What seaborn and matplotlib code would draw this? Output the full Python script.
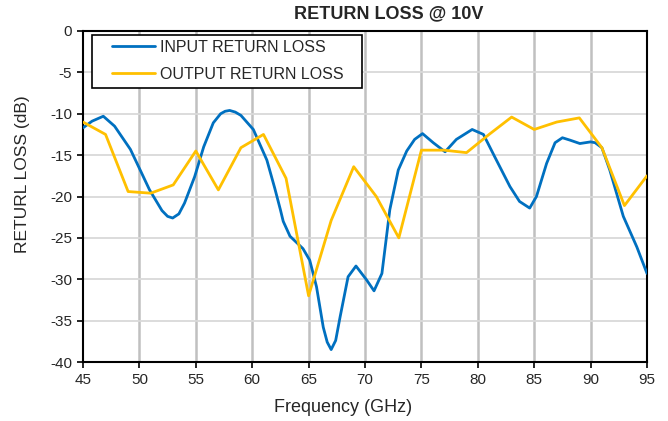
import matplotlib
matplotlib.use("Agg")
import matplotlib.pyplot as plt
from matplotlib.patches import Rectangle
import seaborn as sns
import pandas as pd

input_freq = [45.0, 45.8, 46.8, 47.8, 49.2, 50.0, 50.9, 52.0, 52.5, 52.95, 53.5, 54.0, 54.9, 55.7,
              56.55, 57.2, 57.6, 58.0, 58.5, 59.0, 60.1, 61.3, 62.0, 62.5, 62.75, 63.35, 64.5, 65.1,
              65.7, 66.3, 66.65, 67.0, 67.4, 67.8, 68.5, 69.2, 70.15, 70.8, 71.5, 72.2, 72.95, 73.7,
              74.4, 75.1, 76.05, 77.1, 78.1, 79.5, 80.5, 81.5, 82.85, 83.7, 84.6, 85.2,
              86.1, 86.85, 87.5, 88.2, 89.05, 90.0, 90.4, 91.0, 91.7, 92.9, 94.1, 95.0]
input_rl = [-11.7, -10.9, -10.3, -11.5, -14.3, -16.6, -19.2, -21.7, -22.4, -22.6, -22.1, -20.8, -17.6, -14.0,
            -11.1, -10.0, -9.7, -9.6, -9.8, -10.2, -11.9, -15.6, -19.0, -21.6, -23.0, -24.8, -26.3, -27.7,
            -30.9, -35.8, -37.6, -38.5, -37.4, -34.5, -29.7, -28.4, -30.1, -31.4, -29.3, -21.6, -16.8, -14.5,
            -13.1, -12.4, -13.5, -14.6, -13.1, -11.9, -12.5, -15.2, -18.8, -20.6, -21.4, -20.0,
            -16.0, -13.5, -12.9, -13.2, -13.6, -13.4, -13.5, -14.1, -16.8, -22.4, -26.1, -29.3]

output_freq = [45, 47, 49, 51, 53, 55, 57, 59, 61, 63, 65, 67, 69, 71, 73, 75, 77, 79,
               81, 83, 85, 87, 89, 91, 93, 95]
output_rl = [-11.0, -12.5, -19.4, -19.6, -18.6, -14.5, -19.2, -14.1, -12.5, -17.8, -32.0, -22.9,
             -16.4, -20.0, -25.0, -14.4, -14.4, -14.7, -12.5, -10.4, -11.9, -11.0, -10.5, -14.1,
             -21.1, -17.5]

x_ticks = [45, 50, 55, 60, 65, 70, 75, 80, 85, 90, 95]
y_ticks = [0, -5, -10, -15, -20, -25, -30, -35, -40]

sns.set_style("white")
plt.rcParams['font.family'] = ['Liberation Sans', 'DejaVu Sans']

W, H = 668, 421
L, R, T, B = 83, 647, 31, 362
fig = plt.figure(figsize=(W/100, H/100), dpi=100)
ax = fig.add_axes([L/W, 1-B/H, (R-L)/W, (B-T)/H])

def ax_x(px):
    return (px - L) / (R - L)

def ax_y(py):
    return (B - py) / (B - T)

df_in = pd.DataFrame({"f": input_freq, "rl": input_rl})
df_out = pd.DataFrame({"f": output_freq, "rl": output_rl})

sns.lineplot(data=df_in, x="f", y="rl", ax=ax, color="#0070C0", linewidth=2,
             label="INPUT RETURN LOSS", estimator=None, sort=False, zorder=3)
sns.lineplot(data=df_out, x="f", y="rl", ax=ax, color="#FFC000", linewidth=2,
             label="OUTPUT RETURN LOSS", estimator=None, sort=False, zorder=3)

ax.set_xlim(45, 95)
ax.set_ylim(-40, 0)
ax.set_xticks(x_ticks)
ax.set_yticks(y_ticks)
ax.set_xticklabels([str(t) for t in x_ticks], fontsize=11)
ax.set_yticklabels([str(t) for t in y_ticks], fontsize=11)

for t in x_ticks[1:-1]:
    ax.axvline(t, color="#c0c0c0", linewidth=1.8, zorder=1)
for t in y_ticks[1:-1]:
    ax.axhline(t, color="#d9d9d9", linewidth=1.3, zorder=1)

ax.tick_params(axis="both", direction="out", length=4, width=1.2, color="black",
               bottom=True, left=True, pad=4)
for s in ax.spines.values():
    s.set_color("black")
    s.set_linewidth(1.5)

ax.set_xlabel("")
ax.set_ylabel("")
fig.text(343/W, 1-408/H, "Frequency (GHz)", ha="center", va="center", fontsize=13)
fig.text(23/W, 1-174/H, "RETURL LOSS (dB)", ha="center", va="center", fontsize=12.5,
         rotation=90)
fig.text(389/W, 1-14/H, "RETURN LOSS @ 10V", ha="center", va="center",
         fontsize=13, fontweight="bold")

frame = Rectangle((ax_x(92), ax_y(88)), ax_x(362) - ax_x(92), ax_y(35) - ax_y(88),
                  transform=ax.transAxes, facecolor="white", edgecolor="black",
                  linewidth=1.2, zorder=4)
ax.add_patch(frame)

leg = ax.legend(loc="center left", bbox_to_anchor=(ax_x(112), ax_y(61)), frameon=False,
                fontsize=11.5, handlelength=2.7, borderpad=0, borderaxespad=0,
                labelspacing=0.75, handletextpad=0.3)
leg.set_zorder(5)

fig.savefig("out.png", dpi=100)
